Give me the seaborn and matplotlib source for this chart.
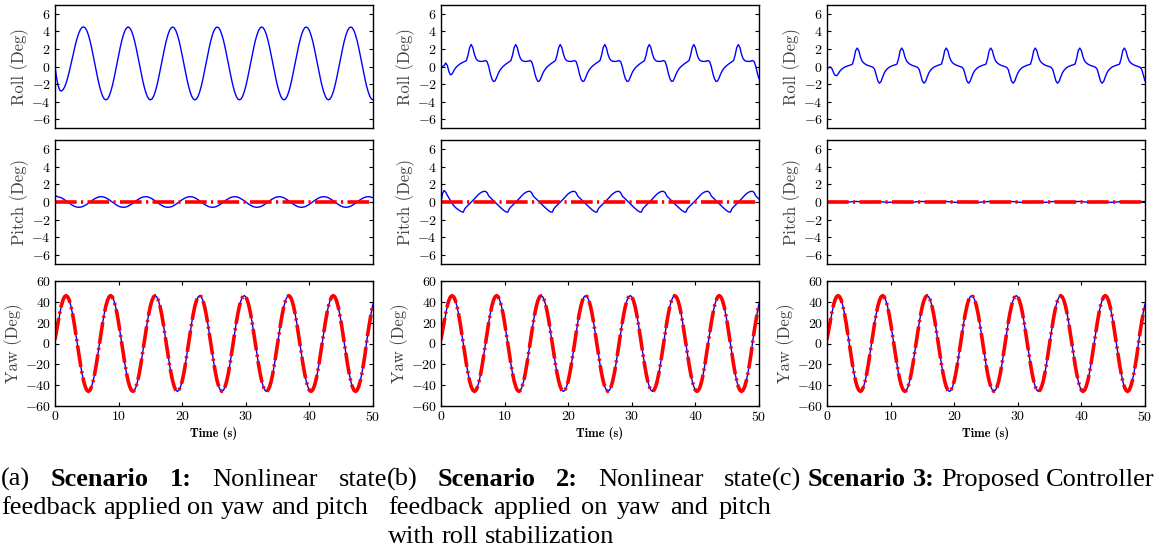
import numpy as np
import matplotlib
matplotlib.use("Agg")
import matplotlib.pyplot as plt
from matplotlib.ticker import FuncFormatter
import seaborn as sns

# samples every 0.25 s from 0 to 50 s
roll_s1 = [
    0.0, -1.3, -2.2, -2.7, -2.8, -2.65, -2.35, -1.88, -1.27, -0.56, 0.23, 1.05, 1.85, 2.61,
    3.27, 3.82, 4.22, 4.45, 4.5, 4.39, 4.09, 3.59, 2.94, 2.15, 1.27, 0.35, -0.57, -1.45,
    -2.24, -2.89, -3.39, -3.7, -3.8, -3.7, -3.39, -2.89, -2.24, -1.45, -0.57, 0.35, 1.27, 2.15,
    2.94, 3.59, 4.09, 4.39, 4.5, 4.39, 4.09, 3.59, 2.94, 2.15, 1.27, 0.35, -0.57, -1.45,
    -2.24, -2.89, -3.39, -3.7, -3.8, -3.7, -3.39, -2.89, -2.24, -1.45, -0.57, 0.35, 1.27, 2.15,
    2.94, 3.59, 4.09, 4.39, 4.5, 4.39, 4.09, 3.59, 2.94, 2.15, 1.27, 0.35, -0.57, -1.45,
    -2.24, -2.89, -3.39, -3.7, -3.8, -3.7, -3.39, -2.89, -2.24, -1.45, -0.57, 0.35, 1.27, 2.15,
    2.94, 3.59, 4.09, 4.39, 4.5, 4.39, 4.09, 3.59, 2.94, 2.15, 1.27, 0.35, -0.57, -1.45,
    -2.24, -2.89, -3.39, -3.7, -3.8, -3.7, -3.39, -2.89, -2.24, -1.45, -0.57, 0.35, 1.27, 2.15,
    2.94, 3.59, 4.09, 4.39, 4.5, 4.39, 4.09, 3.59, 2.94, 2.15, 1.27, 0.35, -0.57, -1.45,
    -2.24, -2.89, -3.39, -3.7, -3.8, -3.7, -3.39, -2.89, -2.24, -1.45, -0.57, 0.35, 1.27, 2.15,
    2.94, 3.59, 4.09, 4.39, 4.5, 4.39, 4.09, 3.59, 2.94, 2.15, 1.27, 0.35, -0.57, -1.45,
    -2.24, -2.89, -3.39, -3.7, -3.8, -3.7, -3.39, -2.89, -2.24, -1.45, -0.57, 0.35, 1.27, 2.15,
    2.94, 3.59, 4.09, 4.39, 4.5, 4.39, 4.09, 3.59, 2.94, 2.15, 1.27, 0.35, -0.57, -1.45,
    -2.24, -2.89, -3.39, -3.7, -3.8,
]

roll_s2 = [
    -0.2, 0.0, 0.1, 0.4, 0.1, -0.6, -0.95, -0.85, -0.5, -0.2, 0.0, 0.15, 0.3, 0.4, 0.5, 0.58, 0.68, 1.3, 2.15,
    2.5, 2.15, 1.4, 0.9, 0.68, 0.6, 0.58, 0.58, 0.62, 0.68, 0.55, 0.0, -0.8, -1.4,
    -1.7, -1.65, -1.25, -0.8, -0.45, -0.2, 0.0, 0.15, 0.3, 0.42, 0.55, 0.68, 1.3, 2.15,
    2.5, 2.15, 1.4, 0.9, 0.68, 0.6, 0.58, 0.58, 0.62, 0.68, 0.55, 0.0, -0.8, -1.4,
    -1.7, -1.65, -1.25, -0.8, -0.45, -0.2, 0.0, 0.15, 0.3, 0.42, 0.55, 0.68, 1.3, 2.15,
    2.5, 2.15, 1.4, 0.9, 0.68, 0.6, 0.58, 0.58, 0.62, 0.68, 0.55, 0.0, -0.8, -1.4,
    -1.7, -1.65, -1.25, -0.8, -0.45, -0.2, 0.0, 0.15, 0.3, 0.42, 0.55, 0.68, 1.3, 2.15,
    2.5, 2.15, 1.4, 0.9, 0.68, 0.6, 0.58, 0.58, 0.62, 0.68, 0.55, 0.0, -0.8, -1.4,
    -1.7, -1.65, -1.25, -0.8, -0.45, -0.2, 0.0, 0.15, 0.3, 0.42, 0.55, 0.68, 1.3, 2.15,
    2.5, 2.15, 1.4, 0.9, 0.68, 0.6, 0.58, 0.58, 0.62, 0.68, 0.55, 0.0, -0.8, -1.4,
    -1.7, -1.65, -1.25, -0.8, -0.45, -0.2, 0.0, 0.15, 0.3, 0.42, 0.55, 0.68, 1.3, 2.15,
    2.5, 2.15, 1.4, 0.9, 0.68, 0.6, 0.58, 0.58, 0.62, 0.68, 0.55, 0.0, -0.8, -1.4,
    -1.7, -1.65, -1.25, -0.8, -0.45, -0.2, 0.0, 0.15, 0.3, 0.42, 0.55, 0.68, 1.3, 2.15,
    2.5, 2.15, 1.4, 0.9, 0.68, 0.6, 0.58, 0.58, 0.62, 0.68, 0.55, 0.0, -0.8, -1.4,
]

roll_s3 = [
    0.0, -0.15, -0.05, -0.2, -0.65, -1.0, -1.05, -0.85, -0.55, -0.35, -0.2, -0.08, 0.0, 0.07, 0.13, 0.18, 0.28, 0.9, 1.8,
    2.1, 1.8, 1.1, 0.65, 0.42, 0.28, 0.18, 0.1, 0.04, -0.02, -0.1, -0.35, -1.0, -1.65,
    -1.9, -1.7, -1.2, -0.75, -0.45, -0.25, -0.1, 0.0, 0.08, 0.15, 0.2, 0.28, 0.9, 1.8,
    2.1, 1.8, 1.1, 0.65, 0.42, 0.28, 0.18, 0.1, 0.04, -0.02, -0.1, -0.35, -1.0, -1.65,
    -1.9, -1.7, -1.2, -0.75, -0.45, -0.25, -0.1, 0.0, 0.08, 0.15, 0.2, 0.28, 0.9, 1.8,
    2.1, 1.8, 1.1, 0.65, 0.42, 0.28, 0.18, 0.1, 0.04, -0.02, -0.1, -0.35, -1.0, -1.65,
    -1.9, -1.7, -1.2, -0.75, -0.45, -0.25, -0.1, 0.0, 0.08, 0.15, 0.2, 0.28, 0.9, 1.8,
    2.1, 1.8, 1.1, 0.65, 0.42, 0.28, 0.18, 0.1, 0.04, -0.02, -0.1, -0.35, -1.0, -1.65,
    -1.9, -1.7, -1.2, -0.75, -0.45, -0.25, -0.1, 0.0, 0.08, 0.15, 0.2, 0.28, 0.9, 1.8,
    2.1, 1.8, 1.1, 0.65, 0.42, 0.28, 0.18, 0.1, 0.04, -0.02, -0.1, -0.35, -1.0, -1.65,
    -1.9, -1.7, -1.2, -0.75, -0.45, -0.25, -0.1, 0.0, 0.08, 0.15, 0.2, 0.28, 0.9, 1.8,
    2.1, 1.8, 1.1, 0.65, 0.42, 0.28, 0.18, 0.1, 0.04, -0.02, -0.1, -0.35, -1.0, -1.65,
    -1.9, -1.7, -1.2, -0.75, -0.45, -0.25, -0.1, 0.0, 0.08, 0.15, 0.2, 0.28, 0.9, 1.8,
    2.1, 1.8, 1.1, 0.65, 0.42, 0.28, 0.18, 0.1, 0.04, -0.02, -0.1, -0.35, -1.0, -1.65,
]

pitch_s1 = [
    0.75, 0.65, 0.57, 0.54, 0.47, 0.37, 0.26, 0.13, 0.0, -0.13, -0.26, -0.37, -0.47, -0.54,
    -0.58, -0.6, -0.58, -0.54, -0.47, -0.37, -0.26, -0.13, 0.0, 0.13, 0.26, 0.37, 0.47, 0.54,
    0.58, 0.6, 0.58, 0.54, 0.47, 0.37, 0.26, 0.13, 0.0, -0.13, -0.26, -0.37, -0.47, -0.54,
    -0.58, -0.6, -0.58, -0.54, -0.47, -0.37, -0.26, -0.13, 0.0, 0.13, 0.26, 0.37, 0.47, 0.54,
    0.58, 0.6, 0.58, 0.54, 0.47, 0.37, 0.26, 0.13, 0.0, -0.13, -0.26, -0.37, -0.47, -0.54,
    -0.58, -0.6, -0.58, -0.54, -0.47, -0.37, -0.26, -0.13, 0.0, 0.13, 0.26, 0.37, 0.47, 0.54,
    0.58, 0.6, 0.58, 0.54, 0.47, 0.37, 0.26, 0.13, 0.0, -0.13, -0.26, -0.37, -0.47, -0.54,
    -0.58, -0.6, -0.58, -0.54, -0.47, -0.37, -0.26, -0.13, 0.0, 0.13, 0.26, 0.37, 0.47, 0.54,
    0.58, 0.6, 0.58, 0.54, 0.47, 0.37, 0.26, 0.13, 0.0, -0.13, -0.26, -0.37, -0.47, -0.54,
    -0.58, -0.6, -0.58, -0.54, -0.47, -0.37, -0.26, -0.13, 0.0, 0.13, 0.26, 0.37, 0.47, 0.54,
    0.58, 0.6, 0.58, 0.54, 0.47, 0.37, 0.26, 0.13, 0.0, -0.13, -0.26, -0.37, -0.47, -0.54,
    -0.58, -0.6, -0.58, -0.54, -0.47, -0.37, -0.26, -0.13, 0.0, 0.13, 0.26, 0.37, 0.47, 0.54,
    0.58, 0.6, 0.58, 0.54, 0.47, 0.37, 0.26, 0.13, 0.0, -0.13, -0.26, -0.37, -0.47, -0.54,
    -0.58, -0.6, -0.58, -0.54, -0.47, -0.37, -0.26, -0.13, 0.0, 0.13, 0.26, 0.37, 0.47, 0.54,
    0.58, 0.6, 0.58, 0.54, 0.47,
]

pitch_s2 = [
    0.0, 1.0, 1.3, 1.1, 0.75, 0.45, 0.15, -0.15, -0.4, -0.6, -0.75, -0.88, -1.0, -1.1,
    -1.15, -0.75, -0.55, -0.38, -0.2, -0.02, 0.15, 0.35, 0.55, 0.75, 0.92, 1.05, 1.15, 1.2,
    1.2, 1.05, 0.68, 0.5, 0.33, 0.15, -0.02, -0.2, -0.38, -0.55, -0.72, -0.88, -1.02, -1.12,
    -1.15, -0.75, -0.55, -0.38, -0.2, -0.02, 0.15, 0.35, 0.55, 0.75, 0.92, 1.05, 1.15, 1.2,
    1.2, 1.05, 0.68, 0.5, 0.33, 0.15, -0.02, -0.2, -0.38, -0.55, -0.72, -0.88, -1.02, -1.12,
    -1.15, -0.75, -0.55, -0.38, -0.2, -0.02, 0.15, 0.35, 0.55, 0.75, 0.92, 1.05, 1.15, 1.2,
    1.2, 1.05, 0.68, 0.5, 0.33, 0.15, -0.02, -0.2, -0.38, -0.55, -0.72, -0.88, -1.02, -1.12,
    -1.15, -0.75, -0.55, -0.38, -0.2, -0.02, 0.15, 0.35, 0.55, 0.75, 0.92, 1.05, 1.15, 1.2,
    1.2, 1.05, 0.68, 0.5, 0.33, 0.15, -0.02, -0.2, -0.38, -0.55, -0.72, -0.88, -1.02, -1.12,
    -1.15, -0.75, -0.55, -0.38, -0.2, -0.02, 0.15, 0.35, 0.55, 0.75, 0.92, 1.05, 1.15, 1.2,
    1.2, 1.05, 0.68, 0.5, 0.33, 0.15, -0.02, -0.2, -0.38, -0.55, -0.72, -0.88, -1.02, -1.12,
    -1.15, -0.75, -0.55, -0.38, -0.2, -0.02, 0.15, 0.35, 0.55, 0.75, 0.92, 1.05, 1.15, 1.2,
    1.2, 1.05, 0.68, 0.5, 0.33, 0.15, -0.02, -0.2, -0.38, -0.55, -0.72, -0.88, -1.02, -1.12,
    -1.15, -0.75, -0.55, -0.38, -0.2, -0.02, 0.15, 0.35, 0.55, 0.75, 0.92, 1.05, 1.15, 1.2,
    1.2, 1.05, 0.68, 0.5, 0.33,
]

pitch_s3 = [
    -0.3, -0.05, 0.05, 0.07, 0.06, 0.05, 0.03, 0.01, -0.01, -0.03, -0.04, -0.04, -0.03, -0.02,
    0.0, 0.02, 0.04, 0.05, 0.06, 0.06, 0.05, 0.03, 0.01, -0.01, -0.03, -0.04, -0.03, -0.01,
    0.02, 0.04, 0.05, 0.06, 0.06, 0.05, 0.03, 0.01, -0.01, -0.03, -0.04, -0.04, -0.03, -0.02,
    0.0, 0.02, 0.04, 0.05, 0.06, 0.06, 0.05, 0.03, 0.01, -0.01, -0.03, -0.04, -0.03, -0.01,
    0.02, 0.04, 0.05, 0.06, 0.06, 0.05, 0.03, 0.01, -0.01, -0.03, -0.04, -0.04, -0.03, -0.02,
    0.0, 0.02, 0.04, 0.05, 0.06, 0.06, 0.05, 0.03, 0.01, -0.01, -0.03, -0.04, -0.03, -0.01,
    0.02, 0.04, 0.05, 0.06, 0.06, 0.05, 0.03, 0.01, -0.01, -0.03, -0.04, -0.04, -0.03, -0.02,
    0.0, 0.02, 0.04, 0.05, 0.06, 0.06, 0.05, 0.03, 0.01, -0.01, -0.03, -0.04, -0.03, -0.01,
    0.02, 0.04, 0.05, 0.06, 0.06, 0.05, 0.03, 0.01, -0.01, -0.03, -0.04, -0.04, -0.03, -0.02,
    0.0, 0.02, 0.04, 0.05, 0.06, 0.06, 0.05, 0.03, 0.01, -0.01, -0.03, -0.04, -0.03, -0.01,
    0.02, 0.04, 0.05, 0.06, 0.06, 0.05, 0.03, 0.01, -0.01, -0.03, -0.04, -0.04, -0.03, -0.02,
    0.0, 0.02, 0.04, 0.05, 0.06, 0.06, 0.05, 0.03, 0.01, -0.01, -0.03, -0.04, -0.03, -0.01,
    0.02, 0.04, 0.05, 0.06, 0.06, 0.05, 0.03, 0.01, -0.01, -0.03, -0.04, -0.04, -0.03, -0.02,
    0.0, 0.02, 0.04, 0.05, 0.06, 0.06, 0.05, 0.03, 0.01, -0.01, -0.03, -0.04, -0.03, -0.01,
    0.02, 0.04, 0.05, 0.06, 0.06,
]

# pitch reference is held at zero in every scenario
pitch_ref = [0.0] * 201

yaw_ref = [
    4.0, 12.5, 21.5, 29.6, 36.4, 41.6, 44.9, 46.0, 44.8, 41.4, 36.0, 28.7, 20.0, 10.2,
    0.0, -10.2, -20.0, -28.7, -36.0, -41.4, -44.8, -46.0, -44.8, -41.4, -36.0, -28.7, -20.0, -10.2,
    0.0, 10.2, 20.0, 28.7, 36.0, 41.4, 44.8, 46.0, 44.8, 41.4, 36.0, 28.7, 20.0, 10.2,
    0.0, -10.2, -20.0, -28.7, -36.0, -41.4, -44.8, -46.0, -44.8, -41.4, -36.0, -28.7, -20.0, -10.2,
    0.0, 10.2, 20.0, 28.7, 36.0, 41.4, 44.8, 46.0, 44.8, 41.4, 36.0, 28.7, 20.0, 10.2,
    0.0, -10.2, -20.0, -28.7, -36.0, -41.4, -44.8, -46.0, -44.8, -41.4, -36.0, -28.7, -20.0, -10.2,
    0.0, 10.2, 20.0, 28.7, 36.0, 41.4, 44.8, 46.0, 44.8, 41.4, 36.0, 28.7, 20.0, 10.2,
    0.0, -10.2, -20.0, -28.7, -36.0, -41.4, -44.8, -46.0, -44.8, -41.4, -36.0, -28.7, -20.0, -10.2,
    0.0, 10.2, 20.0, 28.7, 36.0, 41.4, 44.8, 46.0, 44.8, 41.4, 36.0, 28.7, 20.0, 10.2,
    0.0, -10.2, -20.0, -28.7, -36.0, -41.4, -44.8, -46.0, -44.8, -41.4, -36.0, -28.7, -20.0, -10.2,
    0.0, 10.2, 20.0, 28.7, 36.0, 41.4, 44.8, 46.0, 44.8, 41.4, 36.0, 28.7, 20.0, 10.2,
    0.0, -10.2, -20.0, -28.7, -36.0, -41.4, -44.8, -46.0, -44.8, -41.4, -36.0, -28.7, -20.0, -10.2,
    0.0, 10.2, 20.0, 28.7, 36.0, 41.4, 44.8, 46.0, 44.8, 41.4, 36.0, 28.7, 20.0, 10.2,
    0.0, -10.2, -20.0, -28.7, -36.0, -41.4, -44.8, -46.0, -44.8, -41.4, -36.0, -28.7, -20.0, -10.2,
    1.5, 12.0, 21.5, 30.5, 38.0,
]

yaw_track = [
    0.0, 9.6, 19.6, 28.5, 35.9, 41.3, 44.8, 46.0, 44.8, 41.4, 36.0, 28.7, 20.0, 10.2,
    0.0, -10.2, -20.0, -28.7, -36.0, -41.4, -44.8, -46.0, -44.8, -41.4, -36.0, -28.7, -20.0, -10.2,
    0.0, 10.2, 20.0, 28.7, 36.0, 41.4, 44.8, 46.0, 44.8, 41.4, 36.0, 28.7, 20.0, 10.2,
    0.0, -10.2, -20.0, -28.7, -36.0, -41.4, -44.8, -46.0, -44.8, -41.4, -36.0, -28.7, -20.0, -10.2,
    0.0, 10.2, 20.0, 28.7, 36.0, 41.4, 44.8, 46.0, 44.8, 41.4, 36.0, 28.7, 20.0, 10.2,
    0.0, -10.2, -20.0, -28.7, -36.0, -41.4, -44.8, -46.0, -44.8, -41.4, -36.0, -28.7, -20.0, -10.2,
    0.0, 10.2, 20.0, 28.7, 36.0, 41.4, 44.8, 46.0, 44.8, 41.4, 36.0, 28.7, 20.0, 10.2,
    0.0, -10.2, -20.0, -28.7, -36.0, -41.4, -44.8, -46.0, -44.8, -41.4, -36.0, -28.7, -20.0, -10.2,
    0.0, 10.2, 20.0, 28.7, 36.0, 41.4, 44.8, 46.0, 44.8, 41.4, 36.0, 28.7, 20.0, 10.2,
    0.0, -10.2, -20.0, -28.7, -36.0, -41.4, -44.8, -46.0, -44.8, -41.4, -36.0, -28.7, -20.0, -10.2,
    0.0, 10.2, 20.0, 28.7, 36.0, 41.4, 44.8, 46.0, 44.8, 41.4, 36.0, 28.7, 20.0, 10.2,
    0.0, -10.2, -20.0, -28.7, -36.0, -41.4, -44.8, -46.0, -44.8, -41.4, -36.0, -28.7, -20.0, -10.2,
    0.0, 10.2, 20.0, 28.7, 36.0, 41.4, 44.8, 46.0, 44.8, 41.4, 36.0, 28.7, 20.0, 10.2,
    0.0, -10.2, -20.0, -28.7, -36.0, -41.4, -44.8, -46.0, -44.8, -41.4, -36.0, -28.7, -20.0, -10.2,
    1.5, 12.0, 21.5, 30.5, 38.0,
]

small_ticks = [-6, -4, -2, 0, 2, 4, 6]
yaw_ticks = [-60, -40, -20, 0, 20, 40, 60]
time_ticks = [0, 10, 20, 30, 40, 50]

sns.set_style("white")
plt.rcParams["font.family"] = "cmr10"
plt.rcParams["mathtext.fontset"] = "cm"
plt.rcParams["axes.formatter.use_mathtext"] = True

W, H = 1156, 552
fig = plt.figure(figsize=(W / 100, H / 100), dpi=100)

col_left = [55, 441, 827]
col_w = 318
rows = [(5, 128), (140, 264), (281, 406)]

ref_kw = dict(color="red", linewidth=2.6, linestyle=(0, (6, 1.2, 0.6, 1.2)))
resp_kw = dict(color="blue", linewidth=1.0)
bold_fmt = FuncFormatter(lambda v, p: r"$\mathbf{%d}$" % round(v))


def make_ax(col, row):
    top, bot = rows[row]
    ax = fig.add_axes([col_left[col] / W, 1 - bot / H, col_w / W, (bot - top) / H])
    for s in ax.spines.values():
        s.set_color("black")
        s.set_linewidth(1.0)
    ax.tick_params(direction="in", length=3, width=0.8, top=True, right=True,
                   left=True, bottom=True, labelsize=10, colors="black", pad=3)
    ax.xaxis.set_major_formatter(bold_fmt)
    ax.yaxis.set_major_formatter(bold_fmt)
    return ax


def tvec(v):
    return np.arange(len(v)) * 0.25


roll_all = [roll_s1, roll_s2, roll_s3]
pitch_all = [pitch_s1, pitch_s2, pitch_s3]

for c in range(3):
    # roll
    ax = make_ax(c, 0)
    sns.lineplot(x=tvec(roll_all[c]), y=roll_all[c], ax=ax, errorbar=None, **resp_kw)
    ax.set_xlim(0, 50)
    ax.set_ylim(-7, 7)
    ax.set_yticks(small_ticks)
    ax.set_xticks([])
    ax.set_ylabel("Roll (Deg)", fontsize=12, color="0.25")
    ax.yaxis.set_label_coords(-0.082, 0.5)

    # pitch
    ax = make_ax(c, 1)
    sns.lineplot(x=tvec(pitch_all[c]), y=pitch_all[c], ax=ax, errorbar=None, **resp_kw)
    sns.lineplot(x=tvec(pitch_ref), y=pitch_ref, ax=ax, errorbar=None, **ref_kw)
    ax.set_xlim(0, 50)
    ax.set_ylim(-7, 7)
    ax.set_yticks(small_ticks)
    ax.set_xticks([])
    ax.set_ylabel("Pitch (Deg)", fontsize=12, color="0.25")
    ax.yaxis.set_label_coords(-0.082, 0.5)

    # yaw
    ax = make_ax(c, 2)
    sns.lineplot(x=tvec(yaw_track), y=yaw_track, ax=ax, errorbar=None, **resp_kw)
    sns.lineplot(x=tvec(yaw_ref), y=yaw_ref, ax=ax, errorbar=None, **ref_kw)
    ax.set_xlim(0, 50)
    ax.set_ylim(-60, 60)
    ax.set_yticks(yaw_ticks)
    ax.set_xticks(time_ticks)
    ax.set_ylabel("Yaw (Deg)", fontsize=12, color="0.25")
    ax.yaxis.set_label_coords(-0.102, 0.5)
    ax.set_xlabel("Time (s)", fontsize=9, color="black", family="cmb10")
    ax.xaxis.set_label_coords(0.5, -0.17)

# sub-figure captions, laid out word by word like justified LaTeX text
cap_font = "Liberation Serif"
cap_size = 19
renderer = fig.canvas.get_renderer()


def caption_line(words, x0, y, x1=None):
    texts = [fig.text(0, 1 - y / H, w, fontsize=cap_size, family=cap_font,
                      weight=wt, va="baseline", ha="left", color="black")
             for w, wt in words]
    widths = [t.get_window_extent(renderer).width for t in texts]
    if x1 is None or len(words) < 2:
        gap = 0.25 * cap_size * 100 / 72
    else:
        gap = (x1 - x0 - sum(widths)) / (len(words) - 1)
    x = x0
    for t, wd in zip(texts, widths):
        t.set_x(x / W)
        x += wd + gap


N, B = "normal", "bold"
caption_line([("(a)", N), ("Scenario", B), ("1:", B), ("Nonlinear", N), ("state", N)], 1, 486, 387)
caption_line([("feedback", N), ("applied", N), ("on", N), ("yaw", N), ("and", N), ("pitch", N)], 1, 514)
caption_line([("(b)", N), ("Scenario", B), ("2:", B), ("Nonlinear", N), ("state", N)], 387, 486, 772)
caption_line([("feedback", N), ("applied", N), ("on", N), ("yaw", N), ("and", N), ("pitch", N)], 388, 514, 771)
caption_line([("with", N), ("roll", N), ("stabilization", N)], 388, 543)
caption_line([("(c)", N), ("Scenario", B), ("3:", B), ("Proposed", N), ("Controller", N)], 772, 486)

fig.savefig("out.png", dpi=100)
